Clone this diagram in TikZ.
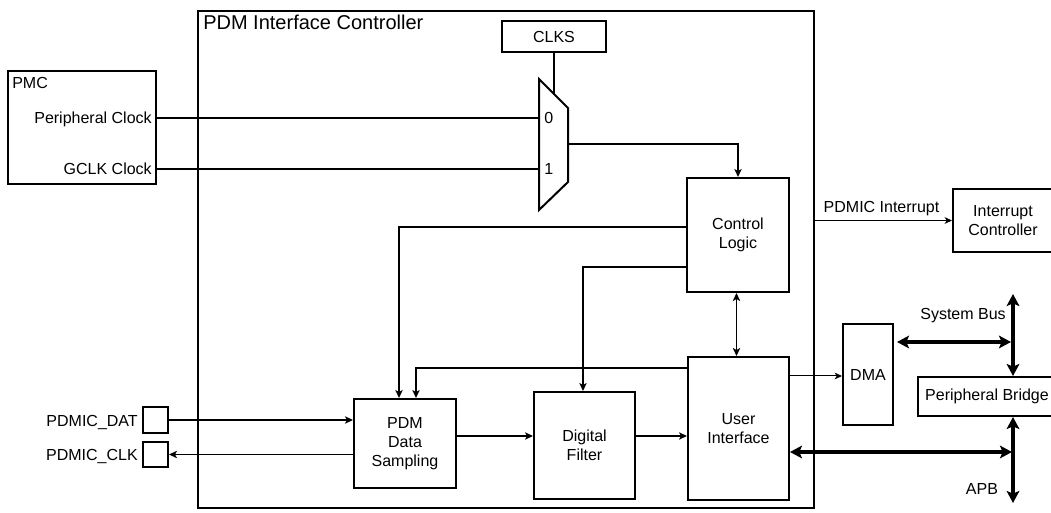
\documentclass[tikz,border=0pt]{standalone}
\usepackage{fontspec}
\setmainfont{Liberation Sans}
\usetikzlibrary{arrows.meta,calc}
\begin{document}
\begin{tikzpicture}[x=0.75pt,y=-0.75pt,
  txt/.style={font=\fontsize{12}{14.25}\selectfont},
  blk/.style={draw, line width=1.5pt, rectangle, inner sep=0pt, align=center, txt},
  lbl/.style={inner sep=0pt, txt},
  conn/.style={line width=1.35pt},
  arr/.style={conn, -{Stealth[length=6pt,width=5.5pt,inset=1.5pt]}},
  dbl/.style={conn, {Stealth[length=6pt,width=5.5pt,inset=1.5pt]}-{Stealth[length=6pt,width=5.5pt,inset=1.5pt]}},
  thinarr/.style={line width=0.75pt, -{Stealth[length=5.5pt,width=5pt,inset=1.5pt]}},
  bus/.style={line width=3pt, {Stealth[length=9pt,width=9.5pt,inset=2pt]}-{Stealth[length=9pt,width=9.5pt,inset=2pt]}}
]
\useasboundingbox (0,0) rectangle (1051,513);

% main container
\node[blk, minimum width=462pt, minimum height=372.75pt] (main) at (506,259.5) {};
\node[lbl, anchor=base west, font=\fontsize{15}{18}\selectfont] (title) at (203,29.3) {PDM Interface Controller};

% PMC
\node[blk, minimum width=111pt, minimum height=84.75pt] (pmc) at (82,127.5) {};
\node[lbl, anchor=base west] (pmct) at (12,89) {PMC};
\node[lbl, anchor=base east] (pclk) at (152,123.3) {Peripheral Clock};
\node[lbl, anchor=base east] (gclk) at (152,174.3) {GCLK Clock};

% CLKS and mux
\node[blk, minimum width=78pt, minimum height=23.25pt] (clks) at (554,36.5) {CLKS};
\coordinate (mtl) at (539,79);
\coordinate (mtr) at (568,108);
\coordinate (mbr) at (568,182);
\coordinate (mbl) at (539,210);
\draw[line width=1.5pt, line join=miter] (mtl) -- (mtr) -- (mbr) -- (mbl) -- cycle;
\node[lbl, anchor=base west] (m0t) at (544,123.3) {0};
\node[lbl, anchor=base west] (m1t) at (544,175) {1};
\coordinate (m0) at (539,118);
\coordinate (m1) at (539,169);
\coordinate (msel) at (554,94);
\coordinate (mout) at (568,144);

% inner blocks
\node[blk, minimum width=76.5pt, minimum height=85.5pt] (cl) at (738,235) {Control\\Logic};
\node[blk, minimum width=76.5pt, minimum height=66.75pt] (pds) at (405,443.5) {PDM\\Data\\Sampling};
\node[blk, minimum width=75.75pt, minimum height=80.25pt] (df) at (584.5,445.5) {Digital\\Filter};
\node[blk, minimum width=75.75pt, minimum height=107.25pt] (ui) at (738.5,428.5) {User\\Interface};

% pads
\node[blk, minimum width=18.75pt, minimum height=19.5pt] (dat) at (155.5,420) {};
\node[blk, minimum width=18.75pt, minimum height=18.75pt] (clk) at (155.5,454.5) {};
\node[lbl, anchor=base east] (datt) at (138,427) {PDMIC\_DAT};
\node[lbl, anchor=base east] (clkt) at (138,461) {PDMIC\_CLK};

% outside blocks
\node[blk, minimum width=75pt, minimum height=47.25pt] (int) at (1003,220.5) {Interrupt\\Controller};
\node[blk, minimum width=37.5pt, minimum height=75.75pt] (dma) at (868,374.5) {DMA};
\node[blk, minimum width=103.5pt, minimum height=29.25pt] (pb) at (987,396.5) {Peripheral Bridge};

\node[lbl, anchor=base] (intt) at (881.5,212.3) {PDMIC Interrupt};
\node[lbl, anchor=base east] (sbt) at (1006,319.3) {System Bus};
\node[lbl, anchor=base] (apbt) at (982,495) {APB};

% connectors
\draw[conn] (pmc.east |- m0) -- (m0);
\draw[conn] (pmc.east |- m1) -- (m1);
\draw[conn] (clks.south) -- (msel);
\draw[arr] (mout) -| (cl.north);
\draw[arr] (cl.west |- 0,227) -| ($(pds.north)+(-6,0)$);
\draw[arr] (cl.west |- 0,267) -| ($(df.north)+(-1.5,0)$);
\draw[arr] (ui.west |- 0,368) -| ($(pds.north)+(11,0)$);
\draw[dbl] ($(cl.south)+(-1.5,0)$) -- ($(cl.south |- ui.north)+(-1.5,0)$);
\draw[arr] (dat.east) -- (dat.east -| pds.west);
\draw[arr] (clk.east -| pds.west) -- (clk.east);
\draw[arr] (pds.east |- 0,436) -- (df.west |- 0,436);
\draw[arr] (df.east |- 0,436) -- (ui.west |- 0,436);
\draw[thinarr] (ui.east |- 0,376) -- (dma.west |- 0,376);
\draw[thinarr] (main.east |- int.west) -- (int.west);

% buses
\coordinate (bustop) at (1013,294);
\coordinate (busbot) at (1013,503);
\draw[bus] (bustop) -- (bustop |- pb.north);
\draw[bus] (pb.south -| busbot) -- (busbot);
\draw[bus] ($(dma.east |- 0,342)+(3,0)$) -- ($(bustop |- 0,342)+(-2,0)$);
\draw[bus] (ui.east |- 0,452) -- ($(bustop |- 0,452)+(-1,0)$);
\end{tikzpicture}
\end{document}
